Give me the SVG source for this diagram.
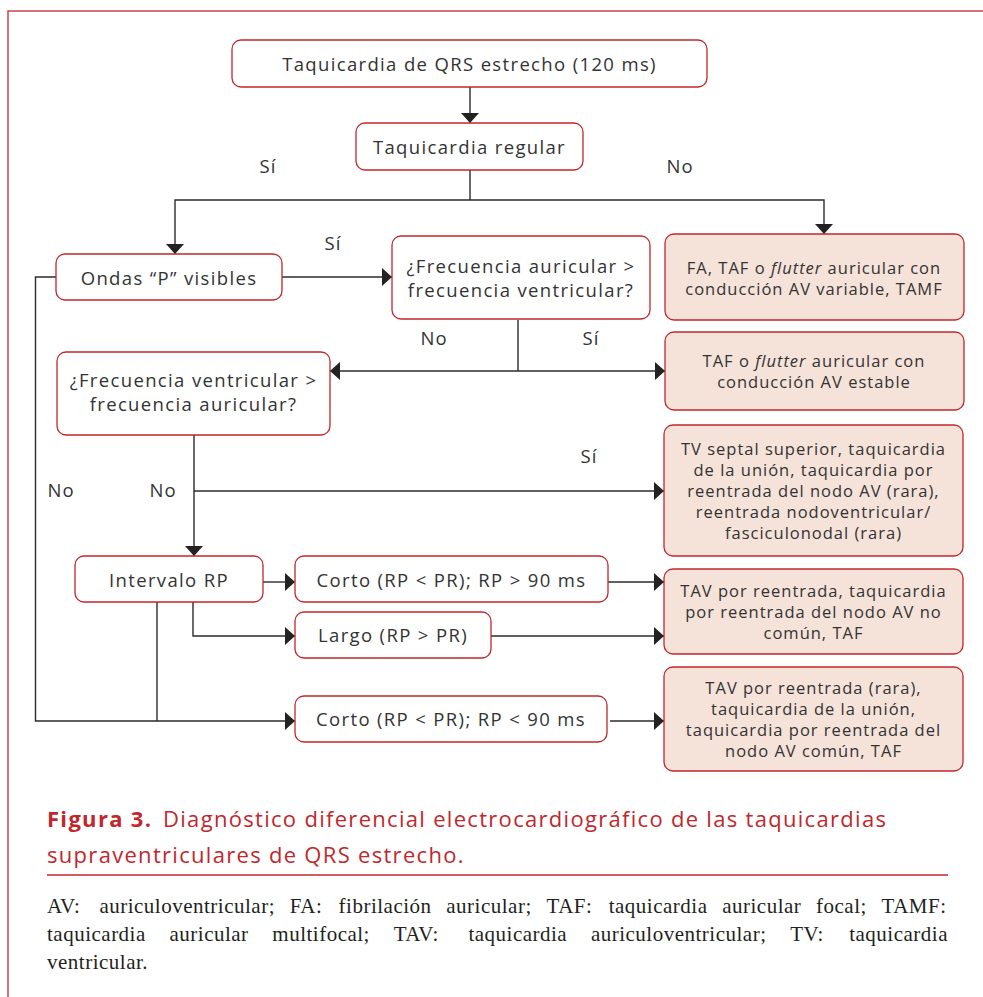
<svg xmlns="http://www.w3.org/2000/svg" width="983" height="997" viewBox="0 0 983 997">
<style>
.box{fill:#ffffff;stroke:#c1272d;stroke-width:1.3}
.res{fill:#f5e2d9;stroke:#c1272d;stroke-width:1.3}
.t{font-family:"Open Sans","Liberation Sans",sans-serif;font-size:18.5px;letter-spacing:1.35px;fill:#333333;text-anchor:middle}
.r{font-family:"Open Sans","Liberation Sans",sans-serif;font-size:16.5px;letter-spacing:1px;fill:#333333;text-anchor:middle}
.lbl{font-family:"Open Sans","Liberation Sans",sans-serif;font-size:18.5px;letter-spacing:1px;fill:#333333;text-anchor:middle}
.cn{fill:none;stroke:#2b2b2b;stroke-width:1.4}
.cap{font-family:"Open Sans","Liberation Sans",sans-serif;font-size:22px;letter-spacing:1.3px;fill:#c1272d}
.fn{font-family:"Liberation Serif","Times New Roman",serif;font-size:21px;letter-spacing:0.5px;fill:#231f20}
</style>
<defs>
<marker id="ah" markerUnits="userSpaceOnUse" markerWidth="10" markerHeight="18" refX="10" refY="9" orient="auto">
<path d="M0,0 L10,9 L0,18 z" fill="#222222"/>
</marker>
<marker id="ahs" markerUnits="userSpaceOnUse" markerWidth="10" markerHeight="18" refX="10" refY="9" orient="auto-start-reverse">
<path d="M0,0 L10,9 L0,18 z" fill="#222222"/>
</marker>
</defs>
<rect width="983" height="997" fill="#ffffff"/>
<path d="M8,997 V11 H983" fill="none" stroke="#c8454a" stroke-width="1.5"/>

<g id="connectors">
<path class="cn" d="M470,87 V123" marker-end="url(#ah)"/>
<path class="cn" d="M470,170 V200"/>
<path class="cn" d="M470,200 H175 V254" marker-end="url(#ah)"/>
<path class="cn" d="M470,200 H824 V234" marker-end="url(#ah)"/>
<path class="cn" d="M282,277 H392" marker-end="url(#ah)"/>
<path class="cn" d="M56,277 H35.5 V721 H295" marker-end="url(#ah)"/>
<path class="cn" d="M518,320 V371"/>
<path class="cn" d="M330,371 H665" marker-start="url(#ahs)" marker-end="url(#ah)"/>
<path class="cn" d="M194,435 V556" marker-end="url(#ah)"/>
<path class="cn" d="M194,491 H664" marker-end="url(#ah)"/>
<path class="cn" d="M263,582 H295" marker-end="url(#ah)"/>
<path class="cn" d="M608,582 H664" marker-end="url(#ah)"/>
<path class="cn" d="M193,602 V636 H295" marker-end="url(#ah)"/>
<path class="cn" d="M491,636 H664" marker-end="url(#ah)"/>
<path class="cn" d="M157,602 V721"/>
<path class="cn" d="M610,721 H664" marker-end="url(#ah)"/>
<text class="lbl" x="268" y="173">Sí</text>
<text class="lbl" x="680" y="173">No</text>
<text class="lbl" x="333" y="250">Sí</text>
<text class="lbl" x="434" y="345">No</text>
<text class="lbl" x="591" y="345">Sí</text>
<text class="lbl" x="589" y="463">Sí</text>
<text class="lbl" x="61" y="497">No</text>
<text class="lbl" x="163" y="497">No</text>
</g>

<g id="n1">
<rect class="box" x="232" y="40" width="475" height="47" rx="9"/>
<text class="t" x="469.5" y="71">Taquicardia de QRS estrecho (120 ms)</text>
</g>
<g id="n2">
<rect class="box" x="356" y="123" width="227" height="47" rx="9"/>
<text class="t" x="469.5" y="154">Taquicardia regular</text>
</g>
<g id="n3">
<rect class="box" x="56" y="254" width="226" height="46" rx="9"/>
<text class="t" x="169" y="285">Ondas “P” visibles</text>
</g>
<g id="n4">
<rect class="box" x="392" y="236" width="258" height="83" rx="9"/>
<text class="t" x="521" y="273">¿Frecuencia auricular &gt;</text>
<text class="t" x="521" y="297">frecuencia ventricular?</text>
</g>
<g id="n5">
<rect class="res" x="665" y="234" width="299" height="86" rx="9"/>
<text class="r" x="814" y="274">FA, TAF o <tspan font-style="italic">flutter</tspan> auricular con</text>
<text class="r" x="814" y="295">conducción AV variable, TAMF</text>
</g>
<g id="n6">
<rect class="res" x="665" y="332" width="299" height="78" rx="9"/>
<text class="r" x="814" y="367">TAF o <tspan font-style="italic">flutter</tspan> auricular con</text>
<text class="r" x="814" y="388">conducción AV estable</text>
</g>
<g id="n7">
<rect class="box" x="57" y="352" width="273" height="83" rx="9"/>
<text class="t" x="193.5" y="387">¿Frecuencia ventricular &gt;</text>
<text class="t" x="193.5" y="411">frecuencia auricular?</text>
</g>
<g id="n8">
<rect class="res" x="664" y="425" width="299" height="131" rx="9"/>
<text class="r" x="813.5" y="455">TV septal superior, taquicardia</text>
<text class="r" x="813.5" y="476">de la unión, taquicardia por</text>
<text class="r" x="813.5" y="497">reentrada del nodo AV (rara),</text>
<text class="r" x="813.5" y="518">reentrada nodoventricular/</text>
<text class="r" x="813.5" y="539">fasciculonodal (rara)</text>
</g>
<g id="n9">
<rect class="box" x="75" y="556" width="188" height="46" rx="9"/>
<text class="t" x="169" y="587">Intervalo RP</text>
</g>
<g id="n10">
<rect class="box" x="295" y="556" width="313" height="46" rx="9"/>
<text class="t" x="451.5" y="587">Corto (RP &lt; PR); RP &gt; 90 ms</text>
</g>
<g id="n11">
<rect class="box" x="295" y="612" width="196" height="46" rx="9"/>
<text class="t" x="393" y="642">Largo (RP &gt; PR)</text>
</g>
<g id="n12">
<rect class="res" x="664" y="569" width="299" height="85" rx="9"/>
<text class="r" x="813.5" y="597">TAV por reentrada, taquicardia</text>
<text class="r" x="813.5" y="618">por reentrada del nodo AV no</text>
<text class="r" x="813.5" y="639">común, TAF</text>
</g>
<g id="n13">
<rect class="box" x="295" y="696" width="312" height="46" rx="9"/>
<text class="t" x="451" y="726">Corto (RP &lt; PR); RP &lt; 90 ms</text>
</g>
<g id="n14">
<rect class="res" x="664" y="667" width="299" height="104" rx="9"/>
<text class="r" x="813.5" y="694">TAV por reentrada (rara),</text>
<text class="r" x="813.5" y="715">taquicardia de la unión,</text>
<text class="r" x="813.5" y="736">taquicardia por reentrada del</text>
<text class="r" x="813.5" y="757">nodo AV común, TAF</text>
</g>

<g id="caption">
<text class="cap" x="47" y="827"><tspan font-weight="bold">Figura 3.</tspan><tspan x="163">Diagnóstico diferencial electrocardiográfico de las taquicardias</tspan></text>
<text class="cap" x="47" y="863">supraventriculares de QRS estrecho.</text>
<path d="M47,875 H948" stroke="#c1272d" stroke-width="1.5"/>
</g>
<g id="footnote">
<text class="fn" y="913"><tspan x="47">AV:</tspan><tspan x="99.4">auriculoventricular;</tspan><tspan x="289.7">FA:</tspan><tspan x="338.6">fibrilación</tspan><tspan x="446.3">auricular;</tspan><tspan x="546.5">TAF:</tspan><tspan x="608.7">taquicardia</tspan><tspan x="722.2">auricular</tspan><tspan x="816">focal;</tspan><tspan x="881.5">TAMF:</tspan></text>
<text class="fn" y="941"><tspan x="47">taquicardia</tspan><tspan x="169.5">auricular</tspan><tspan x="272.3">multifocal;</tspan><tspan x="393.7">TAV:</tspan><tspan x="468.4">taquicardia</tspan><tspan x="590.9">auriculoventricular;</tspan><tspan x="790.2">TV:</tspan><tspan x="849.2">taquicardia</tspan></text>
<text class="fn" x="47" y="969">ventricular.</text>
</g>
</svg>
